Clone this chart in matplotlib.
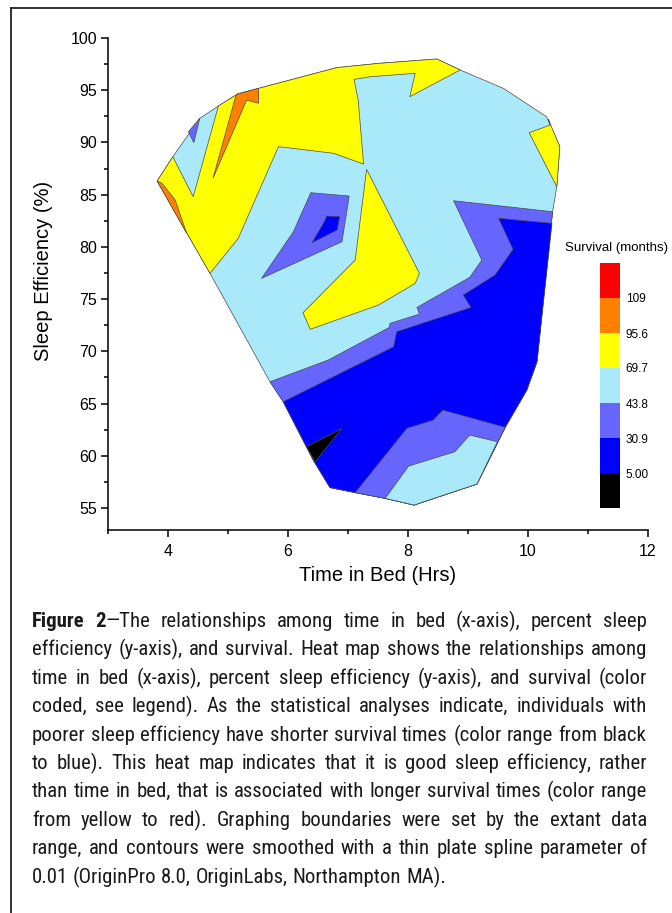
import matplotlib
matplotlib.use("Agg")
import matplotlib.pyplot as plt
from matplotlib import font_manager
from matplotlib.lines import Line2D

# colour bands of the survival scale (months), bottom to top
LEVEL_LABELS = ["5.00", "30.9", "43.8", "69.7", "95.6", "109"]
BAND_COLORS = ["#000000", "#0000FF", "#6666FF", "#AAE9F9", "#FFFF00", "#FF8000", "#FF0000"]
BLACK, BLUE, MIDBLUE, CYAN, YELLOW, ORANGE, RED = BAND_COLORS

# contour regions, (time in bed [h], sleep efficiency [%]) vertices
HULL = [(3.82, 86.31), (4.08, 88.63), (4.53, 92.31), (4.84, 93.49), (5.16, 94.64),
        (5.51, 95.18), (6.81, 97.16), (7.53, 97.58), (8.48, 97.99), (8.87, 96.94),
        (9.59, 95.18), (10.31, 92.46), (10.53, 89.59), (10.48, 85.76), (10.41, 83.37),
        (10.15, 69.01), (9.98, 66.30), (9.62, 62.73), (9.15, 57.30), (8.10, 55.29),
        (7.62, 55.93), (7.12, 56.48), (6.70, 56.96), (6.43, 59.50), (5.92, 65.18),
        (5.70, 67.09), (4.70, 77.47)]
YELLOW_MAIN = [(8.87, 96.94), (8.48, 97.99), (7.53, 97.58), (6.81, 97.16), (5.51, 95.18),
               (5.16, 94.64), (4.84, 93.49), (4.42, 84.80), (4.08, 88.63), (3.82, 86.31),
               (4.70, 77.47), (5.17, 80.81), (5.84, 89.59), (6.09, 89.43), (6.76, 88.96),
               (7.26, 87.93), (7.17, 94.06), (7.10, 96.04), (7.37, 96.29), (8.12, 96.62),
               (8.03, 94.38)]
YELLOW_TONGUE = [(7.31, 87.43), (8.19, 77.47), (8.12, 76.51), (7.51, 74.44), (6.37, 72.11),
                 (6.25, 73.70), (7.12, 78.74)]
YELLOW_RIGHT = [(10.34, 92.21), (10.37, 91.67), (10.02, 90.93), (10.48, 85.76), (10.53, 89.59)]
ORANGE_SPIKE = [(5.16, 94.64), (5.51, 95.18), (5.51, 93.75), (5.31, 94.06), (4.75, 86.57),
                (5.13, 94.45)]
ORANGE_EDGE = [(3.82, 86.31), (3.90, 86.09), (4.12, 84.49), (4.31, 81.30)]
MID_TOP = [(4.34, 91.03), (4.53, 92.31), (4.43, 89.98)]
MID_KITE = [(6.38, 85.19), (7.02, 84.87), (6.90, 80.50), (5.56, 76.99), (6.09, 81.45)]
BLUE_KITE = [(6.65, 82.96), (6.86, 82.89), (6.82, 81.62), (6.40, 80.40), (6.59, 82.26)]
MID_LOW = [(10.41, 83.37), (8.76, 84.42), (9.23, 78.74), (9.03, 77.09), (8.15, 74.21),
           (8.19, 73.57), (7.70, 72.68), (7.69, 72.30), (6.67, 69.17), (5.70, 67.09),
           (5.92, 65.18), (6.43, 59.50), (6.70, 56.96), (7.12, 56.48), (7.62, 55.93),
           (8.10, 55.29), (9.15, 57.30), (9.62, 62.73), (9.98, 66.30), (10.15, 69.01)]
BLUE_LOW = [(10.40, 82.26), (9.51, 82.74), (9.75, 79.77), (9.45, 77.31), (8.92, 75.39),
            (9.05, 74.21), (7.81, 71.88), (7.76, 70.44), (5.92, 65.18), (6.43, 59.50),
            (6.70, 56.96), (7.12, 56.48), (7.62, 55.93), (8.10, 55.29), (9.15, 57.30),
            (9.62, 62.73), (9.98, 66.30), (10.15, 69.01)]
MID_BOTTOM = [(7.12, 56.48), (7.98, 62.63), (8.42, 63.42), (8.58, 64.38), (9.62, 62.73),
              (9.15, 57.30), (8.10, 55.29), (7.62, 55.93)]
CYAN_BOTTOM = [(7.62, 55.93), (8.01, 59.02), (8.78, 60.39), (9.03, 61.99), (9.49, 61.35),
               (9.15, 57.30), (8.10, 55.29)]
BLACK_TIP = [(6.31, 60.87), (6.90, 62.63), (6.45, 59.43)]

REGIONS = [(HULL, CYAN), (YELLOW_MAIN, YELLOW), (YELLOW_TONGUE, YELLOW),
           (YELLOW_RIGHT, YELLOW), (ORANGE_SPIKE, ORANGE), (ORANGE_EDGE, ORANGE),
           (MID_TOP, MIDBLUE), (MID_KITE, MIDBLUE), (MID_LOW, MIDBLUE),
           (BLUE_KITE, BLUE), (BLUE_LOW, BLUE), (MID_BOTTOM, MIDBLUE),
           (CYAN_BOTTOM, CYAN), (BLACK_TIP, BLACK)]

CAPTION = [
    "Figure 2\u2014The relationships among time in bed (x-axis), percent sleep",
    "efficiency (y-axis), and survival. Heat map shows the relationships among",
    "time in bed (x-axis), percent sleep efficiency (y-axis), and survival (color",
    "coded, see legend). As the statistical analyses indicate, individuals with",
    "poorer sleep efficiency have shorter survival times (color range from black",
    "to blue). This heat map indicates that it is good sleep efficiency, rather",
    "than time in bed, that is associated with longer survival times (color range",
    "from yellow to red). Graphing boundaries were set by the extant data",
    "range, and contours were smoothed with a thin plate spline parameter of",
    "0.01 (OriginPro 8.0, OriginLabs, Northampton MA).",
]
BOLD_LEAD = "Figure 2"

W, H = 672, 913
plt.rcParams["font.family"] = ["Liberation Sans", "DejaVu Sans"]

# the caption is set in a narrow face; use one if installed
installed = {f.name for f in font_manager.fontManager.ttflist}
CAP_FONT = ["Liberation Sans", "DejaVu Sans"]
for cand in ["Liberation Sans Narrow", "Arial Narrow", "Roboto Condensed",
             "Noto Sans Condensed", "Open Sans Condensed", "Noto Sans SemiCondensed"]:
    if cand in installed:
        CAP_FONT = [cand, "DejaVu Sans"]
        break

fig = plt.figure(figsize=(W / 100, H / 100), dpi=100)
ax = fig.add_axes([108 / W, 1 - 530 / H, 540 / W, 492 / H])

for pts, col in REGIONS:
    xs = [p[0] for p in pts]
    ys = [p[1] for p in pts]
    ax.fill(xs, ys, facecolor=col, edgecolor="#4a4a4a", linewidth=0.5, zorder=2)

ax.set_xlim(3, 12)
ax.set_ylim(52.9, 100)
ax.set_xticks([4, 6, 8, 10, 12])
ax.set_xticks([3, 5, 7, 9, 11], minor=True)
ax.set_yticks(range(55, 101, 5))
ax.set_yticks([52.5 + 5 * i for i in range(1, 10)], minor=True)
for s in ["top", "right"]:
    ax.spines[s].set_visible(False)
for s in ["left", "bottom"]:
    ax.spines[s].set_linewidth(1.1)
ax.tick_params(which="major", direction="out", length=5, width=1.1, labelsize=11.5,
               pad=3)
ax.tick_params(axis="x", which="major", pad=5)
ax.tick_params(which="minor", direction="out", length=3, width=1.1)
ax.set_xlabel("Time in Bed (Hrs)", fontsize=14.5, labelpad=5)
ax.set_ylabel("Sleep Efficiency (%)", fontsize=14.5)
ax.yaxis.set_label_coords(-0.102, 0.527)

# colour scale
cax = fig.add_axes([600 / W, 1 - 508 / H, 20 / W, 245 / H])
for i, col in enumerate(BAND_COLORS):
    cax.bar(0, 1, bottom=i, width=1, color=col, linewidth=0)
cax.set_xlim(-0.5, 0.5)
cax.set_ylim(0, len(BAND_COLORS))
cax.set_xticks([])
cax.set_yticks(range(1, len(BAND_COLORS)))
cax.set_yticklabels(LEVEL_LABELS)
cax.yaxis.tick_right()
cax.tick_params(axis="y", length=0, labelsize=8.5, pad=4)
for s in cax.spines.values():
    s.set_visible(False)
fig.text(565 / W, 1 - 248 / H, "Survival (months)", fontsize=9.5, va="center")

# frame lines
fig.add_artist(Line2D([11 / W, 11 / W], [0, 1 - 8 / H], color="#222222", lw=1.3))
fig.add_artist(Line2D([11 / W, 1], [1 - 8 / H, 1 - 8 / H], color="#222222", lw=1.3))

# justified caption
renderer = fig.canvas.get_renderer()
X0, X1 = 32, 647


def split_words(line, bold_len):
    words = []
    pos = 0
    for w in line.split(" "):
        segs = []
        if pos + len(w) <= bold_len:
            segs.append((w, "bold"))
        elif pos < bold_len:
            k = bold_len - pos
            segs.append((w[:k], "bold"))
            segs.append((w[k:], "normal"))
        else:
            segs.append((w, "normal"))
        words.append(segs)
        pos += len(w) + 1
    return words


def measure(txt, weight, size):
    t = fig.text(0, 0, txt, fontsize=size, family=CAP_FONT, fontweight=weight)
    wpx = t.get_window_extent(renderer).width
    t.remove()
    return wpx


cap_size = 14.0
probe = measure(CAPTION[4], "normal", cap_size)
cap_size = min(15.0, cap_size * (X1 - X0) / probe * 0.995)

space_w = measure("a a", "normal", cap_size) - measure("aa", "normal", cap_size)
for li, line in enumerate(CAPTION):
    words = split_words(line, len(BOLD_LEAD) if li == 0 else 0)
    widths = [[measure(s, wt, cap_size) for s, wt in wd] for wd in words]
    total = sum(sum(w) for w in widths)
    if li == len(CAPTION) - 1 or len(words) < 2:
        gap = space_w
    else:
        gap = (X1 - X0 - total) / (len(words) - 1)
    x = X0
    yb = round(627 + 28.4 * li)
    for wd, ws in zip(words, widths):
        for (s, wt), sw in zip(wd, ws):
            fig.text(x / W, 1 - yb / H, s, fontsize=cap_size, family=CAP_FONT,
                     fontweight=wt, va="baseline", ha="left", color="#1a1a1a")
            x += sw
        x += gap

fig.savefig("out.png", dpi=100)
